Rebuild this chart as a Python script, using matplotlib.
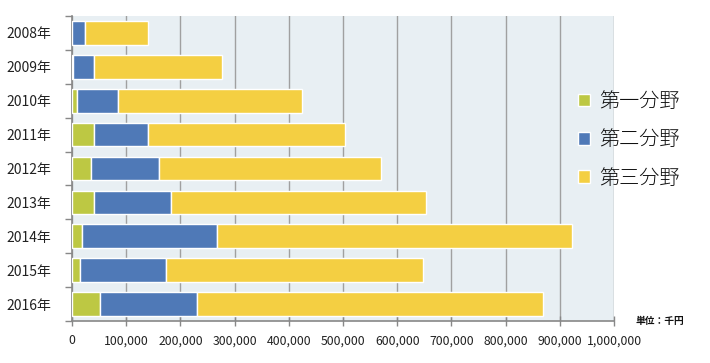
import matplotlib
matplotlib.use("Agg")
import matplotlib.pyplot as plt
import numpy as np

plt.rcParams['font.family'] = ['Noto Sans CJK JP', 'DejaVu Sans']

years = ["2008年", "2009年", "2010年", "2011年", "2012年", "2013年", "2014年", "2015年", "2016年"]
first = [0, 2500, 10000, 41000, 35600, 41000, 19000, 15300, 52000]
second = [24000, 38000, 75500, 99800, 125400, 142000, 249000, 158700, 179000]
third = [116500, 236500, 339500, 363200, 409000, 470000, 655000, 473600, 638000]
series_names = ["第一分野", "第二分野", "第三分野"]
colors = ["#BDC843", "#4F79B7", "#F4CF42"]

fig = plt.figure(figsize=(7.1, 3.63), dpi=100)
ax = fig.add_axes([72 / 710, 42 / 363, 542 / 710, 305 / 363])
ax.set_facecolor("#E8EFF3")

y = np.arange(len(years))
left = np.zeros(len(years))
for vals, name, c in zip([first, second, third], series_names, colors):
    ax.barh(y, vals, left=left, height=0.7, color=c, edgecolor="white",
            linewidth=1, label=name, zorder=3)
    left = left + np.array(vals)

ax.set_xlim(0, 1000000)
ax.set_ylim(len(years) - 0.5, -0.5)
ax.set_xticks(np.arange(0, 1000001, 100000))
ax.set_xticklabels([f"{v:,}" for v in range(0, 1000001, 100000)])
ax.xaxis.grid(True, color="#A0A0A0", linewidth=1, zorder=1)

ax.set_yticks(y)
ax.set_yticklabels(years)
ax.set_yticks(np.arange(-0.5, len(years)), minor=True)
ax.tick_params(axis="y", which="major", length=0, pad=15, labelsize=10, labelcolor="#222222")
ax.tick_params(axis="y", which="minor", length=5, color="#888888", width=1)
ax.tick_params(axis="x", direction="inout", length=7, color="#888888", width=1,
               labelsize=8.8, labelcolor="#222222", pad=6)

for s in ["top", "right"]:
    ax.spines[s].set_visible(False)
for s in ["left", "bottom"]:
    ax.spines[s].set_color("#888888")
    ax.spines[s].set_linewidth(1.2)

leg = fig.legend(loc="upper left", bbox_to_anchor=(578 / 710, 1 - 91 / 363),
                 frameon=False, fontsize=14.5, handlelength=0.6, handleheight=0.6,
                 handletextpad=0.45, labelspacing=0.86, borderpad=0, borderaxespad=0,
                 prop={"weight": "light", "size": 14.5})
for t in leg.get_texts():
    t.set_color("#111111")

fig.text(635 / 710, 1 - 321 / 363, "単位：千円", fontsize=7, fontweight="bold",
         va="center", ha="left", color="#111111")

fig.savefig("out.png", dpi=100)
